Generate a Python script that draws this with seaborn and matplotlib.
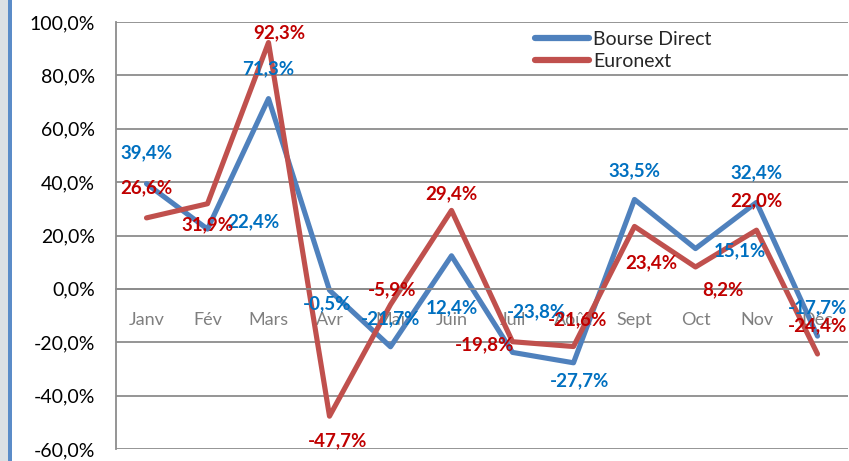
import seaborn as sns
import matplotlib.pyplot as plt
from matplotlib.ticker import FuncFormatter, MultipleLocator
from matplotlib.patches import Rectangle
import pandas as pd

months = ["Janv", "Fév", "Mars", "Avr", "Mai", "Juin", "Juil", "Août", "Sept", "Oct", "Nov", "Déc"]
bourse_direct = [39.4, 22.4, 71.3, -0.5, -21.7, 12.4, -23.8, -27.7, 33.5, 15.1, 32.4, -17.7]
euronext = [26.6, 31.9, 92.3, -47.7, -5.9, 29.4, -19.8, -21.6, 23.4, 8.2, 22.0, -24.4]

# label offsets in pixels (dx, dy), copied from the Excel chart placement
bd_offsets = [(0, 31), (46, 7), (0, 30), (-2, -14), (0, 28), (0, -52),
              (24, 41), (6, -18), (0, 29), (44, -2), (0, 30), (0, 28)]
eu_offsets = [(0, 30), (0, -21), (11, 10), (8, -25), (2, 15), (0, 17),
              (-28, -3), (4, 27), (17, -36), (27, -23), (0, 29), (0, 28)]

df = pd.DataFrame({
    "Mois": months * 2,
    "Valeur": bourse_direct + euronext,
    "Serie": ["Bourse Direct"] * 12 + ["Euronext"] * 12,
})

sns.set_style("white")
plt.rcParams['font.family'] = ['Lato', 'DejaVu Sans']

fig = plt.figure(figsize=(8.49, 4.61), dpi=100)
ax = fig.add_axes([116 / 849, 1 - 449 / 461, (848 - 116) / 849, (449 - 22) / 461])

blue = "#4F81BD"
red = "#C0504D"
sns.lineplot(data=df, x="Mois", y="Valeur", hue="Serie", sort=False,
             palette={"Bourse Direct": blue, "Euronext": red},
             linewidth=3.7, ax=ax)

ax.set_ylim(-60, 100)
ax.set_xlim(-0.5, 11.5)
ax.yaxis.set_major_locator(MultipleLocator(20))
ax.yaxis.set_major_formatter(FuncFormatter(lambda v, p: f"{v:.1f}%".replace(".", ",")))
ax.grid(axis="y", color="#8C8C8C", linewidth=1.3)
ax.set_axisbelow(True)

for s in ["top", "right"]:
    ax.spines[s].set_visible(False)
ax.spines["left"].set_color("#8C8C8C")
ax.spines["left"].set_linewidth(1.3)
ax.spines["bottom"].set_position(("data", 0))
ax.spines["bottom"].set_color("#8C8C8C")
ax.spines["bottom"].set_linewidth(1.3)

ax.set_xticks(range(12))
ax.set_xticklabels(months, color="#7F7F7F", fontsize=13)
ax.tick_params(axis="x", length=0, pad=17)
ax.set_xticks([i + 0.5 for i in range(-1, 12)], minor=True)
ax.tick_params(axis="x", which="minor", length=5, color="#8C8C8C", width=1.3, direction="out")
ax.tick_params(axis="y", length=6, color="#8C8C8C", width=1.3, labelsize=14, labelcolor="black", pad=9)
ax.set_xlabel("")
ax.set_ylabel("")

for i, v in enumerate(bourse_direct):
    ax.annotate(f"{v:.1f}%".replace(".", ","), (i, v), xytext=bd_offsets[i],
                textcoords="offset pixels", ha="center", va="center",
                color="#0070C0", fontweight="bold", fontsize=13.5)
for i, v in enumerate(euronext):
    ax.annotate(f"{v:.1f}%".replace(".", ","), (i, v), xytext=eu_offsets[i],
                textcoords="offset pixels", ha="center", va="center",
                color="#C00000", fontweight="bold", fontsize=13.5)

leg = ax.legend(loc="upper left", bbox_to_anchor=(527 / 849, 1 - 23 / 461),
                bbox_transform=fig.transFigure, frameon=False, fontsize=14,
                handlelength=2.8, handletextpad=0.2, labelspacing=0.25, borderaxespad=0)
for line in leg.get_lines():
    line.set_linewidth(4.5)

# left frame decoration
fig.patches.append(Rectangle((0, 0), 8 / 849, 1, transform=fig.transFigure,
                             facecolor="#DCE0E4", edgecolor="none"))
fig.patches.append(Rectangle((8 / 849, 0), 4 / 849, 1, transform=fig.transFigure,
                             facecolor="#5B8CC8", edgecolor="none"))

fig.savefig("out.png", dpi=100)
